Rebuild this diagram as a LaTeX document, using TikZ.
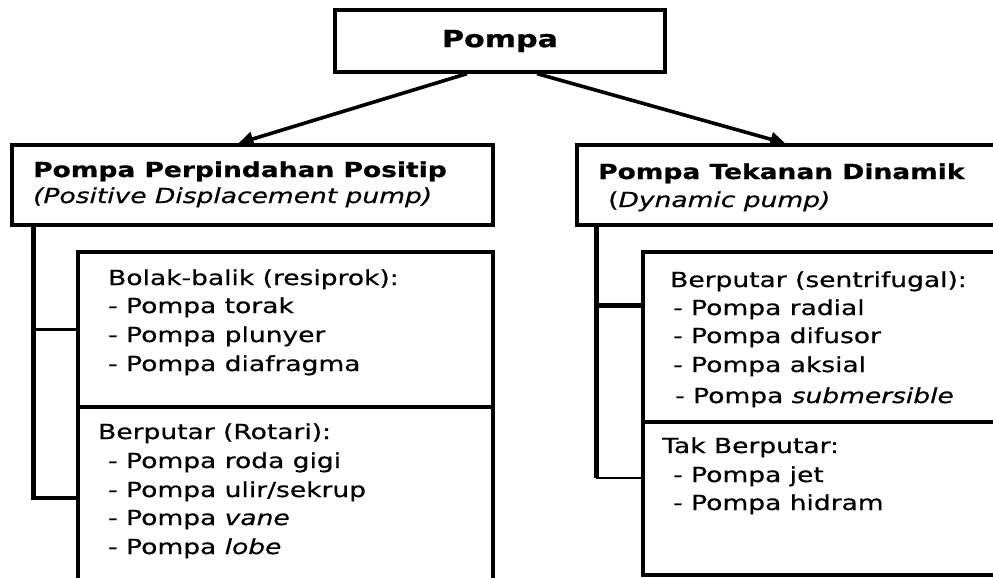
\documentclass[tikz,border=0pt]{standalone}
\usepackage{fontspec}
\setmainfont{DejaVu Sans}[FakeStretch=1.28,
  UprightFeatures={FakeBold=0.6}, ItalicFeatures={FakeBold=0.6},
  BoldFeatures={FakeBold=0.8}]
\usetikzlibrary{arrows.meta,calc}
\begin{document}
\begin{tikzpicture}[x=1pt,y=-1pt,
  box/.style={draw, line width=3.3pt, rectangle, inner sep=0pt},
  txt/.style={anchor=base west, inner sep=0pt, font=\fontsize{20.7}{24}\selectfont},
  btxt/.style={txt, font=\fontsize{20.7}{24}\selectfont\bfseries},
  arr/.style={line width=3.6pt, -{Triangle[length=15pt,width=14pt]}},
  conn/.style={line width=4.5pt},
  thinconn/.style={line width=2.2pt}]
\useasboundingbox (0,0) rectangle (993,578);
\clip (0,0) rectangle (993,578);
\fill[white] (0,0) rectangle (993,578);

% boxes
\node[box, minimum width=330pt, minimum height=62pt, font=\fontsize{23.5}{26}\selectfont\bfseries] (top) at (500,41) {Pompa};
\node[box, minimum width=481pt, minimum height=80pt] (ppp) at (252.5,185) {};
\node[box, minimum width=430pt, minimum height=80pt] (ptd) at (792,185) {};
\node[box, minimum width=415pt, minimum height=155pt] (s1a) at (285.5,329.5) {};
\node[box, minimum width=415pt, minimum height=182pt] (s1b) at (285.5,498) {};
\node[box, minimum width=370pt, minimum height=170pt] (s2a) at (828,337) {};
\node[box, minimum width=370pt, minimum height=153pt] (s2b) at (828,498.5) {};

% arrows
\draw[arr] ($(top.south)+(-33,0)$) -- ($(ppp.north west)+(228,0)$);
\draw[arr] ($(top.south)+(37,0)$) -- ($(ptd.north west)+(210,0)$);

% left connectors
\coordinate (v1) at ($(ppp.south west)+(23,0)$);
\draw[conn] (v1) |- (s1b.west);
\draw[thinconn] (s1a.west) -- (s1a.west -| v1);

% right connectors
\coordinate (v2) at ($(ptd.south west)+(21,0)$);
\coordinate (r1) at ($(s2a.north west)+(0,55)$);
\coordinate (r2) at ($(s2b.north west)+(0,58)$);
\draw[conn] (v2) -- (v2 |- r2);
\draw[conn] (v2 |- r1) -- (r1);
\draw[thinconn] (v2 |- r2) -- (r2);

% texts in the category boxes
\node[btxt] (t1) at (33,177) {Pompa Perpindahan Positip};
\node[txt] (t2) at (33,203) {\itshape (Positive Displacement pump)};
\node[btxt] (t3) at (598,179) {Pompa Tekanan Dinamik};
\node[txt] (t4) at (608,207) {(\textit{Dynamic pump)}};

% left sub boxes
\node[txt] (a0) at (108,285) {Bolak-balik (resiprok):};
\node[txt] (a1) at (108,313) {- Pompa torak};
\node[txt] (a2) at (108,342) {- Pompa plunyer};
\node[txt] (a3) at (108,371) {- Pompa diafragma};
\node[txt] (b0) at (98,439) {Berputar (Rotari):};
\node[txt] (b1) at (108,468) {- Pompa roda gigi};
\node[txt] (b2) at (108,497) {- Pompa ulir/sekrup};
\node[txt] (b3) at (108,525) {- Pompa \textit{vane}};
\node[txt] (b4) at (108,554) {- Pompa \textit{lobe}};

% right sub boxes
\node[txt] (c0) at (670,287) {Berputar (sentrifugal):};
\node[txt] (c1) at (673,315) {- Pompa radial};
\node[txt] (c2) at (673,343) {- Pompa difusor};
\node[txt] (c3) at (673,372) {- Pompa aksial};
\node[txt] (c4) at (675,403) {- Pompa \textit{submersible}};
\node[txt] (d0) at (662,453) {Tak Berputar:};
\node[txt] (d1) at (673,482) {- Pompa jet};
\node[txt] (d2) at (673,510) {- Pompa hidram};
\end{tikzpicture}
\end{document}
